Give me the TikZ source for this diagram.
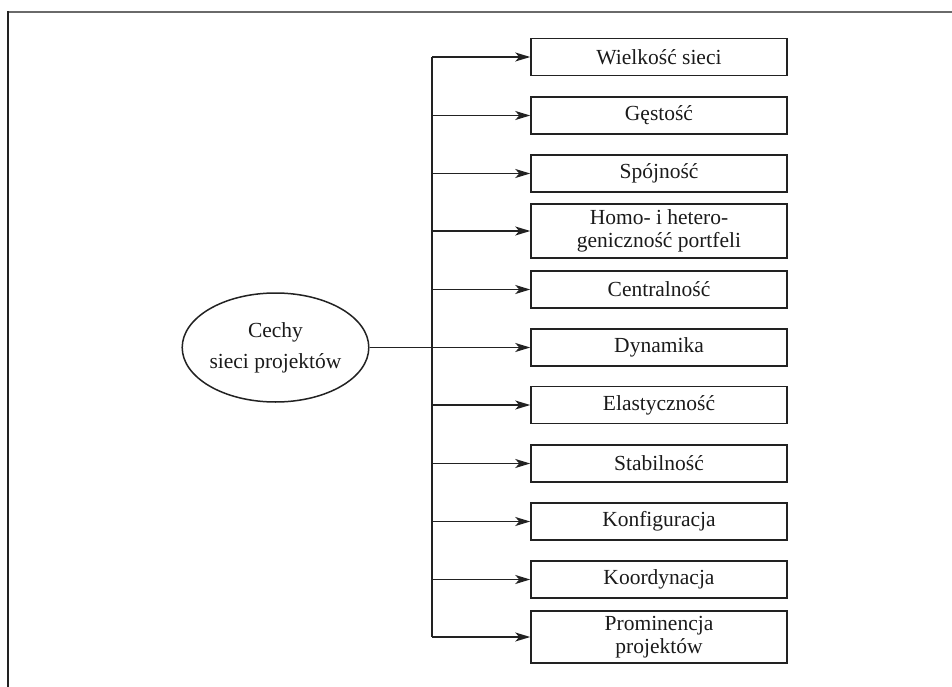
\documentclass[tikz,border=0pt]{standalone}
\usepackage{fontspec}
\setmainfont{Liberation Serif}
\usetikzlibrary{arrows.meta,shapes.geometric}
\definecolor{linec}{HTML}{222222}
\definecolor{textc}{HTML}{1A1A1A}
\definecolor{framec}{HTML}{6A6A6A}
\begin{document}
\begin{tikzpicture}[x=1pt,y=-1pt,
  box/.style={draw=linec, line width=1.5pt, minimum width=256pt, minimum height=37pt,
    inner sep=0pt, align=center, font=\fontsize{21.5}{22.5}\selectfont, text=textc},
  conn/.style={draw=linec, line width=1.5pt},
  arr/.style={conn, -{Stealth[length=15pt,width=9pt,inset=4pt]}}]
\useasboundingbox (0,0) rectangle (952,687);
% frame
\draw[framec, line width=2pt] (952,12) -- (8,12);
\draw[linec, line width=2pt] (8,11) -- (8,687);
% ellipse
\node[ellipse, draw=linec, line width=1.5pt, minimum width=183pt, minimum height=109pt,
  inner sep=0pt, align=center, font=\fontsize{21.5}{31}\selectfont, text=textc]
  (el) at (275.5,347.5) {Cechy\\sieci projektów};
% boxes
\node[box] (b1) at (659,57) {Wielkość sieci};
\node[box] (b2) at (659,115.5) {Gęstość};
\node[box] (b3) at (659,173.5) {Spójność};
\node[box, minimum height=54pt] (b4) at (659,231) {Homo- i hetero-\\geniczność portfeli};
\node[box] (b5) at (659,289.5) {Centralność};
\node[box] (b6) at (659,347.5) {Dynamika};
\node[box] (b7) at (659,405) {Elastyczność};
\node[box] (b8) at (659,463.5) {Stabilność};
\node[box] (b9) at (659,521.5) {Konfiguracja};
\node[box] (b10) at (659,579.5) {Koordynacja};
\node[box, minimum height=52pt] (b11) at (659,637) {Prominencja\\projektów};
% trunk
\coordinate (t) at (432,0);
\draw[conn] (b1.west -| t) -- (b11.west -| t);
\foreach \b in {b1,b2,b3,b4,b5,b7,b8,b9,b10,b11}
  \draw[arr] (\b.west -| t) -- (\b.west);
\draw[arr] (el.east) -- (b6.west);
\end{tikzpicture}
\end{document}
